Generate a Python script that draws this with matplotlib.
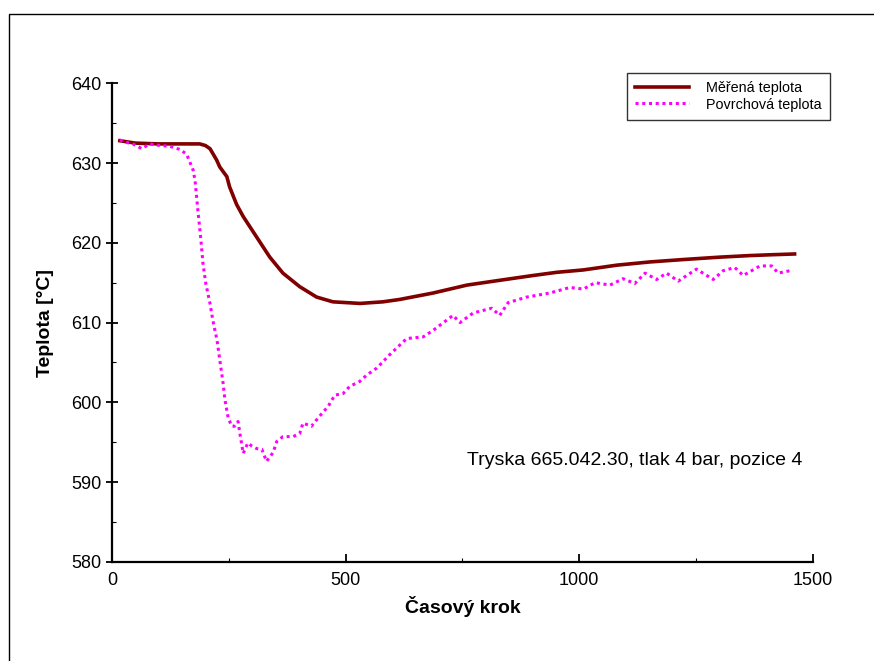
import matplotlib.pyplot as plt
from matplotlib.patches import Rectangle
from matplotlib.ticker import MultipleLocator

plt.rcParams['font.family'] = ['Liberation Sans', 'DejaVu Sans']

# Měřená teplota
x_mer = [17, 50, 100, 150, 188, 200, 210, 224, 231, 246, 252, 267, 281, 310,
         338, 366, 402, 438, 473, 531, 580, 616, 687, 760, 830, 901, 952,
         1009, 1081, 1151, 1222, 1300, 1365, 1410, 1461]
t_mer = [632.8, 632.5, 632.4, 632.4, 632.4, 632.2, 631.8, 630.4, 629.5, 628.3,
         627.0, 624.8, 623.3, 620.7, 618.2, 616.2, 614.5, 613.2, 612.6, 612.4,
         612.6, 612.9, 613.7, 614.7, 615.3, 615.9, 616.3, 616.6, 617.2, 617.6,
         617.9, 618.2, 618.4, 618.5, 618.6]

# Povrchová teplota
x_pov = [17, 30, 45, 64, 81, 103, 124, 146, 160, 167, 174, 178, 184, 190, 195,
         201, 210, 216, 225, 231, 238, 242, 249, 257, 262, 270, 274, 281, 291,
         300, 310, 321, 331, 345, 353, 366, 388, 402, 409, 427, 445, 463, 477,
         495, 509, 530, 545, 567, 595, 631, 666, 687, 730, 745, 773, 813, 830,
         848, 888, 937, 980, 1009, 1034, 1066, 1094, 1119, 1141, 1166, 1187,
         1212, 1251, 1287, 1308, 1333, 1351, 1372, 1387, 1412, 1426, 1451]
t_pov = [632.9, 632.6, 632.4, 631.8, 632.4, 632.2, 632.1, 631.7, 631.1, 630.1,
         629.1, 627.8, 624.1, 620.7, 617.4, 614.9, 612.4, 610.3, 607.8, 605.3,
         602.4, 600.3, 598.0, 597.0, 597.0, 597.6, 596.1, 593.6, 594.9, 594.5,
         594.2, 594.1, 592.6, 593.7, 595.1, 595.7, 595.7, 596.1, 597.4, 597.0,
         598.3, 599.5, 600.9, 601.1, 602.0, 602.6, 603.4, 604.3, 606.0, 608.0,
         608.2, 609.0, 610.9, 610.0, 611.2, 611.8, 610.9, 612.5, 613.2, 613.7,
         614.4, 614.2, 615.0, 614.7, 615.5, 614.9, 616.2, 615.4, 616.2, 615.2,
         616.7, 615.4, 616.5, 616.9, 615.9, 616.6, 617.1, 617.1, 616.2, 616.5]

fig = plt.figure(figsize=(8.74, 6.61), dpi=100)
ax = fig.add_axes([0.128, 0.150, 0.802, 0.724])

# vnější rámeček grafu
fig.patches.append(Rectangle((9 / 874, -0.1), 2, 1.1 - 14 / 661, transform=fig.transFigure,
                             fill=False, edgecolor='black', linewidth=1.0))

ax.plot(x_mer, t_mer, color='#800000', linewidth=2.6, label='Měřená teplota')
ax.plot(x_pov, t_pov, color='#FF00FF', linewidth=2.2, linestyle=(0, (1, 1.2)),
        label='Povrchová teplota')

ax.set_xlim(0, 1500)
ax.set_ylim(580, 640)
ax.xaxis.set_major_locator(MultipleLocator(500))
ax.xaxis.set_minor_locator(MultipleLocator(250))
ax.yaxis.set_major_locator(MultipleLocator(10))
ax.yaxis.set_minor_locator(MultipleLocator(5))

for s in ['top', 'right']:
    ax.spines[s].set_visible(False)
for s in ['left', 'bottom']:
    ax.spines[s].set_linewidth(1.6)

ax.tick_params(axis='x', which='major', direction='in', length=6, width=1.3,
               labelsize=13, pad=7)
ax.tick_params(axis='x', which='minor', direction='in', length=3, width=0.8)
ax.tick_params(axis='y', which='major', direction='inout', length=9, width=1.3,
               labelsize=13, pad=3)
ax.tick_params(axis='y', which='minor', direction='in', length=3, width=0.8)

ax.set_xlabel('Časový krok', fontsize=14, fontweight='bold', labelpad=5)
ax.set_ylabel('Teplota [°C]', fontsize=14, fontweight='bold', labelpad=12)

ax.text(760, 592.7, 'Tryska 665.042.30, tlak 4 bar, pozice 4', fontsize=14,
        ha='left', va='center')

leg = ax.legend(loc='upper right', bbox_to_anchor=(0.950, 0.890),
                bbox_transform=fig.transFigure, fontsize=10.4, frameon=True,
                fancybox=False, handlelength=3.7, borderpad=0.6,
                labelspacing=0.15, handletextpad=1.2, borderaxespad=0)
leg.get_frame().set_edgecolor('black')
leg.get_frame().set_linewidth(1.0)

fig.savefig('out.png', dpi=100)
